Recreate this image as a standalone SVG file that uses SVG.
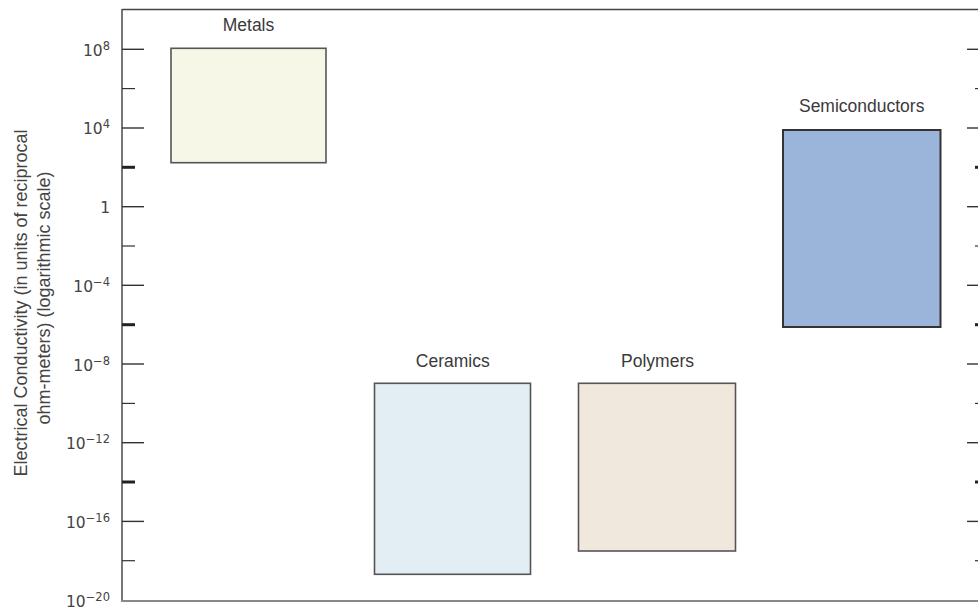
<svg xmlns="http://www.w3.org/2000/svg" width="978" height="610" viewBox="0 0 978 610">
<style>
.lbl{font-family:"Liberation Sans",Arial,sans-serif;font-size:17.5px;fill:#3a3a3a;text-anchor:middle}
.num{font-family:"DejaVu Sans","Liberation Sans",sans-serif;font-size:15.5px;fill:#444;text-anchor:end}
.sup{font-size:11.5px}
.title{font-family:"Liberation Sans",Arial,sans-serif;font-size:18px;fill:#444;text-anchor:middle}
.box{stroke:#555;stroke-width:1.6}
.maj{stroke:#333;stroke-width:1.4}
.min{stroke:#333;stroke-width:1.2}
.thk{stroke:#222;stroke-width:3}
</style>
<rect width="978" height="610" fill="#fff"/>
<g id="axes" fill="none">
  <line x1="122" y1="9.5" x2="978" y2="9.5" stroke="#444" stroke-width="1.5"/>
  <line x1="122" y1="9" x2="122" y2="601" stroke="#555" stroke-width="1.6"/>
  <line x1="121" y1="601" x2="978" y2="601" stroke="#888" stroke-width="2"/>
  <g id="left-ticks">
    <line class="maj" x1="122" y1="49.3" x2="144" y2="49.3"/>
    <line class="min" x1="122" y1="88.6" x2="135" y2="88.6"/>
    <line class="maj" x1="122" y1="128" x2="144" y2="128"/>
    <line class="thk" x1="122" y1="167.3" x2="135" y2="167.3"/>
    <line class="maj" x1="122" y1="206.7" x2="144" y2="206.7"/>
    <line class="min" x1="122" y1="246" x2="135" y2="246"/>
    <line class="maj" x1="122" y1="285.3" x2="144" y2="285.3"/>
    <line class="thk" x1="122" y1="324.7" x2="135" y2="324.7"/>
    <line class="maj" x1="122" y1="364" x2="144" y2="364"/>
    <line class="min" x1="122" y1="403.4" x2="135" y2="403.4"/>
    <line class="maj" x1="122" y1="442.7" x2="144" y2="442.7"/>
    <line class="thk" x1="122" y1="482" x2="135" y2="482"/>
    <line class="maj" x1="122" y1="521.4" x2="144" y2="521.4"/>
    <line class="min" x1="122" y1="560.7" x2="135" y2="560.7"/>
  </g>
  <g id="right-ticks">
    <line class="maj" x1="967" y1="49.3" x2="978" y2="49.3"/>
    <line class="min" x1="975" y1="88.6" x2="978" y2="88.6"/>
    <line class="maj" x1="967" y1="128" x2="978" y2="128"/>
    <line class="thk" x1="975" y1="167.3" x2="978" y2="167.3"/>
    <line class="maj" x1="967" y1="206.7" x2="978" y2="206.7"/>
    <line class="min" x1="975" y1="246" x2="978" y2="246"/>
    <line class="maj" x1="967" y1="285.3" x2="978" y2="285.3"/>
    <line class="thk" x1="975" y1="324.7" x2="978" y2="324.7"/>
    <line class="maj" x1="967" y1="364" x2="978" y2="364"/>
    <line class="min" x1="975" y1="403.4" x2="978" y2="403.4"/>
    <line class="maj" x1="967" y1="442.7" x2="978" y2="442.7"/>
    <line class="thk" x1="975" y1="482" x2="978" y2="482"/>
    <line class="maj" x1="967" y1="521.4" x2="978" y2="521.4"/>
    <line class="min" x1="975" y1="560.7" x2="978" y2="560.7"/>
  </g>
</g>
<g id="tick-labels">
  <text class="num" x="110" y="55.5">10<tspan class="sup" dy="-6">8</tspan></text>
  <text class="num" x="110" y="134">10<tspan class="sup" dy="-6">4</tspan></text>
  <text class="num" x="110" y="213">1</text>
  <text class="num" x="110" y="292">10<tspan class="sup" dy="-6">−4</tspan></text>
  <text class="num" x="110" y="370.5">10<tspan class="sup" dy="-6">−8</tspan></text>
  <text class="num" x="110" y="449">10<tspan class="sup" dy="-6">−12</tspan></text>
  <text class="num" x="110" y="528">10<tspan class="sup" dy="-6">−16</tspan></text>
  <text class="num" x="110" y="607">10<tspan class="sup" dy="-6">−20</tspan></text>
</g>
<g id="axis-title">
  <text class="title" transform="translate(27,303) rotate(-90)">Electrical Conductivity (in units of reciprocal</text>
  <text class="title" transform="translate(50,298) rotate(-90)">ohm-meters) (logarithmic scale)</text>
</g>
<g id="metals">
  <rect class="box" x="171" y="48.3" width="155" height="114.4" fill="#f7f7e7"/>
  <text class="lbl" x="248.5" y="31">Metals</text>
</g>
<g id="ceramics">
  <rect class="box" x="374.5" y="383.3" width="156" height="191" fill="#e2edf4"/>
  <text class="lbl" x="452.8" y="366.5">Ceramics</text>
</g>
<g id="polymers">
  <rect class="box" x="578.5" y="383.3" width="157" height="167.7" fill="#f0e8dd"/>
  <text class="lbl" x="657.5" y="366.5">Polymers</text>
</g>
<g id="semiconductors">
  <rect x="783" y="130" width="157.5" height="197" fill="#9bb5da" stroke="#333" stroke-width="2"/>
  <text class="lbl" x="861.7" y="111.5">Semiconductors</text>
</g>
<g id="connectors"/>
</svg>
